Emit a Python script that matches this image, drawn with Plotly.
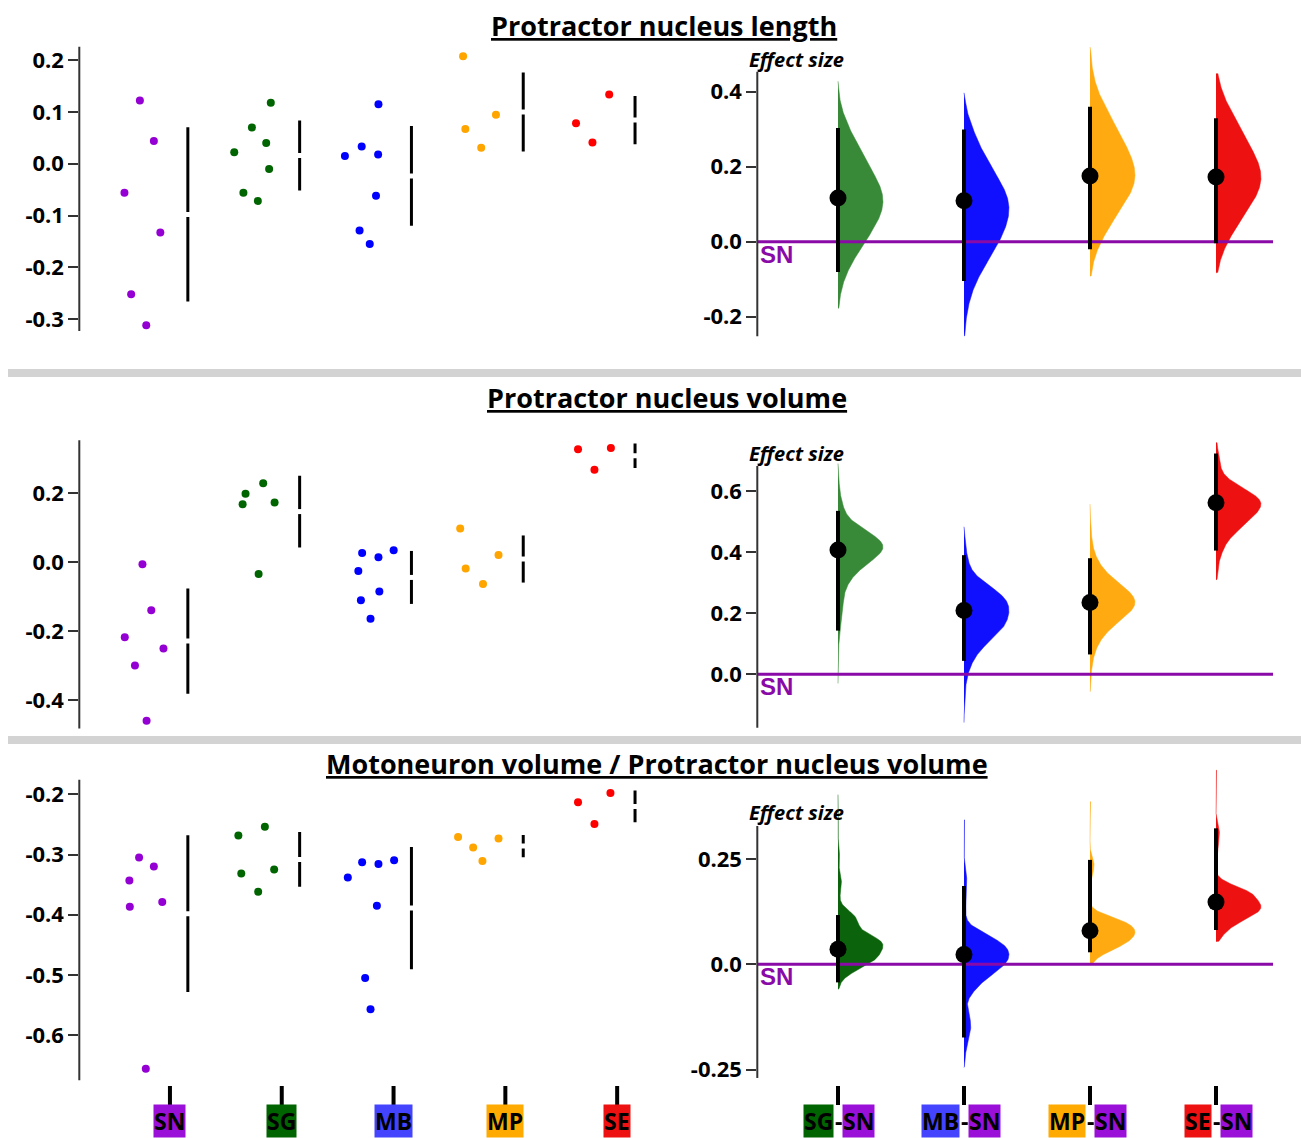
import math
import itertools
import numpy as np
import plotly.graph_objects as go

# ------------------------------------------------------------------ DATA
GROUPS = ["SN", "SG", "MB", "MP", "SE"]
COMPARISONS = ["SG", "MB", "MP", "SE"]
CONTROL = "SN"

# Protractor nucleus length (values, swarm offsets in group units)
length_SN = [0.122, 0.044, -0.056, -0.133, -0.252, -0.312]
length_SN_swarm = [-0.019, 0.106, -0.157, 0.164, -0.097, 0.038]
length_SG = [0.1175, 0.070, 0.040, 0.022, -0.010, -0.056, -0.072]
length_SG_swarm = [0.152, -0.017, 0.111, -0.175, 0.137, -0.093, 0.036]
length_MB = [0.115, 0.033, 0.018, 0.015, -0.062, -0.129, -0.155]
length_MB_swarm = [0.115, -0.035, 0.112, -0.185, 0.093, -0.054, 0.037]
length_MP = [0.2075, 0.0945, 0.067, 0.031]
length_MP_swarm = [-0.128, 0.166, -0.108, 0.034]
length_SE = [0.1335, 0.078, 0.041]
length_SE_swarm = [0.179, -0.118, 0.029]
length_ci_low = [-0.081, -0.105, -0.020, -0.004]
length_ci_high = [0.303, 0.299, 0.360, 0.329]
length_boot_min = [-0.178, -0.252, -0.092, -0.083]
length_boot_max = [0.428, 0.397, 0.519, 0.448]

# Protractor nucleus volume
volume_SN = [-0.006, -0.139, -0.217, -0.250, -0.299, -0.459]
volume_SN_swarm = [0.004, 0.083, -0.154, 0.192, -0.063, 0.041]
volume_SG = [0.229, 0.199, 0.168, 0.173, -0.034]
volume_SG_swarm = [0.084, -0.074, -0.100, 0.186, 0.043]
volume_MB = [0.027, 0.0145, 0.035, -0.025, -0.085, -0.110, -0.1635]
volume_MB_swarm = [-0.031, 0.115, 0.251, -0.065, 0.123, -0.042, 0.044]
volume_MP = [0.098, 0.021, -0.018, -0.063]
volume_MP_swarm = [-0.154, 0.189, -0.105, 0.050]
volume_SE = [0.328, 0.331, 0.268]
volume_SE_swarm = [-0.100, 0.194, 0.047]
volume_ci_low = [0.143, 0.044, 0.065, 0.405]
volume_ci_high = [0.535, 0.390, 0.380, 0.723]
volume_boot_min = [-0.030, -0.158, -0.057, 0.309]
volume_boot_max = [0.690, 0.483, 0.557, 0.758]

# Motoneuron volume / Protractor nucleus volume
ratio_SN = [-0.305, -0.320, -0.343, -0.387, -0.379, -0.656]
ratio_SN_swarm = [-0.026, 0.106, -0.113, -0.109, 0.181, 0.034]
ratio_SG = [-0.2686, -0.2537, -0.3317, -0.325, -0.362]
ratio_SG_swarm = [-0.138, 0.099, -0.112, 0.182, 0.039]
ratio_MB = [-0.338, -0.313, -0.3156, -0.3095, -0.385, -0.505, -0.557]
ratio_MB_swarm = [-0.159, -0.031, 0.115, 0.255, 0.101, -0.004, 0.044]
ratio_MP = [-0.2708, -0.2885, -0.2736, -0.311]
ratio_MP_swarm = [-0.173, -0.038, 0.189, 0.045]
ratio_SE = [-0.2133, -0.1978, -0.2492]
ratio_SE_swarm = [-0.100, 0.190, 0.047]
ratio_ci_low = [-0.043, -0.174, 0.0285, 0.0815]
ratio_ci_high = [0.117, 0.186, 0.248, 0.323]
ratio_boot_min = [-0.059, -0.245, 0.002, 0.054]
ratio_boot_max = [0.403, 0.343, 0.386, 0.461]

# tick labels
length_left_ticks = [-0.3, -0.2, -0.1, 0.0, 0.1, 0.2]
length_left_labels = ["-0.3", "-0.2", "-0.1", "0.0", "0.1", "0.2"]
length_right_ticks = [-0.2, 0.0, 0.2, 0.4]
length_right_labels = ["-0.2", "0.0", "0.2", "0.4"]
volume_left_ticks = [-0.4, -0.2, 0.0, 0.2]
volume_left_labels = ["-0.4", "-0.2", "0.0", "0.2"]
volume_right_ticks = [0.0, 0.2, 0.4, 0.6]
volume_right_labels = ["0.0", "0.2", "0.4", "0.6"]
ratio_left_ticks = [-0.6, -0.5, -0.4, -0.3, -0.2]
ratio_left_labels = ["-0.6", "-0.5", "-0.4", "-0.3", "-0.2"]
ratio_right_ticks = [-0.25, 0.0, 0.25]
ratio_right_labels = ["-0.25", "0.0", "0.25"]

# ------------------------------------------------------------------ STYLE / LAYOUT
W, H = 1301, 1138
POINT_COLORS = {"SN": "#9400D3", "SG": "#006400", "MB": "#0000FF", "MP": "#FFA500", "SE": "#FF0000"}
BOX_COLORS = {"SN": "#9B10D8", "SG": "#006400", "MB": "#4444FF", "MP": "#FFAA00", "SE": "#EE1111"}
ZERO_COLOR = "#8A0AA8"
TICK_FONT = dict(family="Open Sans", size=22, color="black", weight=700)


def xp(px):
    return px / W


def yp(py):
    return 1 - py / H


LEFT_PX = (79.3, 660.0)
RIGHT_PX = (757.3, 1301.0)
LEFT_G0, LEFT_STEP = 142.0, 111.8
RIGHT_G0, RIGHT_STEP = 838.0, 126.0
MEAN_OFFSET = 0.41
HALF_VIOLIN = 0.357
ZERO_END_PX = 1273.0

rows = [
    dict(title="Protractor nucleus length", title_xy=(663.5, 25),
         data={g: (globals()[f"length_{g}"], globals()[f"length_{g}_swarm"]) for g in GROUPS},
         ci=(length_ci_low, length_ci_high), boot=(length_boot_min, length_boot_max),
         left=dict(dom=(40, 345), zero=163.7, ppu=518.0, axis=(-0.323, 0.226),
                   ticks=(length_left_ticks, length_left_labels)),
         right=dict(dom=(30, 345), zero=241.7, ppu=375.0, axis=(-0.252, 0.453),
                    ticks=(length_right_ticks, length_right_labels)),
         effect_y=59, green="#388A38", bw=0.4),
    dict(title="Protractor nucleus volume", title_xy=(667.5, 397),
         data={g: (globals()[f"volume_{g}"], globals()[f"volume_{g}_swarm"]) for g in GROUPS},
         ci=(volume_ci_low, volume_ci_high), boot=(volume_boot_min, volume_boot_max),
         left=dict(dom=(420, 735), zero=562.3, ppu=345.0, axis=(-0.482, 0.354),
                   ticks=(volume_left_ticks, volume_left_labels)),
         right=dict(dom=(420, 735), zero=674.3, ppu=305.5, axis=(-0.175, 0.682),
                    ticks=(volume_right_ticks, volume_right_labels)),
         effect_y=453, green="#388A38", bw=0.4),
    dict(title="Motoneuron volume / Protractor nucleus volume", title_xy=(657, 763),
         data={g: (globals()[f"ratio_{g}"], globals()[f"ratio_{g}_swarm"]) for g in GROUPS},
         ci=(ratio_ci_low, ratio_ci_high), boot=(ratio_boot_min, ratio_boot_max),
         left=dict(dom=(770, 1085), zero=673.9, ppu=602.0, axis=(-0.675, -0.176),
                   ticks=(ratio_left_ticks, ratio_left_labels)),
         right=dict(dom=(760, 1085), zero=964.3, ppu=421.0, axis=(-0.27, 0.3285),
                    ticks=(ratio_right_ticks, ratio_right_labels)),
         effect_y=812, green="#0B640B", bw=0.27),
]
VIOLIN_COLORS = {"MB": "#1010FF", "MP": "#FFAA11", "SE": "#EE1111"}


# ------------------------------------------------------------------ STATS
def boot_median_dist(vals):
    """Exact bootstrap distribution of the median (all resamples enumerated)."""
    s = sorted(vals)
    n = len(s)
    fact = math.factorial(n)
    out = {}
    for combo in itertools.combinations_with_replacement(range(n), n):
        counts = np.bincount(combo, minlength=n)
        w = fact / np.prod([math.factorial(int(c)) for c in counts]) / n ** n
        if n % 2:
            m = s[combo[n // 2]]
        else:
            m = 0.5 * (s[combo[n // 2 - 1]] + s[combo[n // 2]])
        m = round(m, 10)
        out[m] = out.get(m, 0.0) + w
    return out


def diff_density(test, ctrl, grid, bw_factor):
    dt = boot_median_dist(test)
    dc = boot_median_dist(ctrl)
    xs, ps = [], []
    for a, pa in dt.items():
        for b, pb in dc.items():
            xs.append(a - b)
            ps.append(pa * pb)
    xs, ps = np.array(xs), np.array(ps)
    mu = np.sum(xs * ps)
    sd = math.sqrt(np.sum(ps * (xs - mu) ** 2))
    bw = sd * bw_factor
    dens = (ps[None, :] * np.exp(-0.5 * ((grid[:, None] - xs[None, :]) / bw) ** 2)).sum(axis=1)
    return dens / dens.max()


# ------------------------------------------------------------------ FIGURE
fig = go.Figure()
layout = dict(width=W, height=H, margin=dict(l=0, r=0, t=0, b=0),
              paper_bgcolor="white", plot_bgcolor="white", showlegend=False)
shapes, annotations = [], []


def axname(k):
    return ("x" if k == 1 else f"x{k}"), ("y" if k == 1 else f"y{k}")


def layname(k):
    return ("xaxis" if k == 1 else f"xaxis{k}"), ("yaxis" if k == 1 else f"yaxis{k}")


for r, row in enumerate(rows):
    kl, kr = 2 * r + 1, 2 * r + 2
    lx, ly = axname(kl)
    rx, ry = axname(kr)

    # ----- axes
    for k, side, xpx, g0, step in ((kl, "left", LEFT_PX, LEFT_G0, LEFT_STEP),
                                   (kr, "right", RIGHT_PX, RIGHT_G0, RIGHT_STEP)):
        cfg = row[side]
        xa, ya = layname(k)
        xn, yn = axname(k)
        top, bot = cfg["dom"]
        layout[xa] = dict(domain=[xp(xpx[0]), xp(xpx[1])],
                          range=[(xpx[0] - g0) / step, (xpx[1] - g0) / step],
                          visible=False, anchor=yn, fixedrange=True)
        layout[ya] = dict(domain=[yp(bot), yp(top)],
                          range=[(cfg["zero"] - bot) / cfg["ppu"], (cfg["zero"] - top) / cfg["ppu"]],
                          anchor=xn, showgrid=False, zeroline=False, showline=False,
                          ticks="outside", ticklen=10, tickwidth=1.5, tickcolor="#333",
                          tickmode="array", tickvals=cfg["ticks"][0], ticktext=cfg["ticks"][1],
                          tickfont=TICK_FONT, fixedrange=True)
        shapes.append(dict(type="line", xref=f"{xn} domain", yref=yn, x0=0, x1=0,
                           y0=cfg["axis"][0], y1=cfg["axis"][1],
                           line=dict(color="#333", width=2)))

    # ----- left: swarm + mean ± SD
    gap = 2.5 / row["left"]["ppu"]
    for g, name in enumerate(GROUPS):
        vals, offs = row["data"][name]
        fig.add_trace(go.Scatter(x=[g + o for o in offs], y=vals, mode="markers",
                                 marker=dict(size=8, color=POINT_COLORS[name]),
                                 xaxis=lx, yaxis=ly, hoverinfo="y"))
        m = float(np.mean(vals))
        sd = float(np.std(vals, ddof=1))
        xm = g + MEAN_OFFSET
        fig.add_trace(go.Scatter(x=[xm, xm, None, xm, xm], y=[m + sd, m + gap, None, m - gap, m - sd],
                                 mode="lines", line=dict(color="black", width=3),
                                 xaxis=lx, yaxis=ly, hoverinfo="skip"))

    # ----- right: half violins, CI, effect size
    ctrl_vals = row["data"][CONTROL][0]
    for i, name in enumerate(COMPARISONS):
        test_vals = row["data"][name][0]
        lo, hi = row["boot"][0][i], row["boot"][1][i]
        grid = np.linspace(lo, hi, 400)
        dens = diff_density(test_vals, ctrl_vals, grid, row["bw"])
        xs = [i] + list(i + HALF_VIOLIN * dens) + [i]
        ys = [lo] + list(grid) + [hi]
        col = row["green"] if name == "SG" else VIOLIN_COLORS[name]
        fig.add_trace(go.Scatter(x=xs, y=ys, mode="lines", fill="toself", fillcolor=col,
                                 line=dict(color=col, width=0.5), xaxis=rx, yaxis=ry,
                                 hoverinfo="skip"))
    xr = layout[layname(kr)[0]]["range"]
    fig.add_trace(go.Scatter(x=[xr[0], (ZERO_END_PX - RIGHT_G0) / RIGHT_STEP], y=[0, 0], mode="lines",
                             line=dict(color=ZERO_COLOR, width=3), xaxis=rx, yaxis=ry,
                             hoverinfo="skip"))
    for i, name in enumerate(COMPARISONS):
        es = float(np.median(row["data"][name][0]) - np.median(ctrl_vals))
        fig.add_trace(go.Scatter(x=[i, i], y=[row["ci"][0][i], row["ci"][1][i]], mode="lines",
                                 line=dict(color="black", width=4), xaxis=rx, yaxis=ry,
                                 hoverinfo="skip"))
        fig.add_trace(go.Scatter(x=[i], y=[es], mode="markers",
                                 marker=dict(size=17, color="black"), xaxis=rx, yaxis=ry,
                                 hoverinfo="y"))

    # ----- texts
    annotations.append(dict(text=f"<u>{row['title']}</u>", xref="paper", yref="paper",
                            x=xp(row["title_xy"][0]), y=yp(row["title_xy"][1]),
                            xanchor="center", yanchor="middle", showarrow=False,
                            font=dict(family="Open Sans", size=27, color="black", weight=700)))
    annotations.append(dict(text="Effect size", xref="paper", yref="paper",
                            x=xp(796), y=yp(row["effect_y"]), xanchor="center", yanchor="middle",
                            showarrow=False,
                            font=dict(family="Open Sans", size=20, color="black", weight=700,
                                      style="italic")))
    annotations.append(dict(text="SN", xref=f"{rx} domain", yref=ry, x=0, y=0,
                            xanchor="left", yanchor="middle", xshift=1, yshift=-12.5,
                            showarrow=False,
                            font=dict(family="Liberation Sans", size=24, color=ZERO_COLOR,
                                      weight="bold")))

# ----- separators
for ytop, ybot in ((369, 377), (736, 744)):
    shapes.append(dict(type="rect", xref="paper", yref="paper", x0=xp(8), x1=1,
                       y0=yp(ybot), y1=yp(ytop), fillcolor="#D3D3D3", line=dict(width=0),
                       layer="below"))

# ----- bottom category labels
LABEL_OFFSET = 0.25
LABEL_Y = 1121
lab_font = dict(family="Open Sans", size=23, color="black", weight=700)
box = dict(borderpad=0, yanchor="middle", showarrow=False, yref="paper", y=yp(LABEL_Y))
for g, name in enumerate(GROUPS):
    xv = g + LABEL_OFFSET
    shapes.append(dict(type="line", xref="x5", yref="paper", x0=xv, x1=xv,
                       y0=yp(1105), y1=yp(1086), line=dict(color="black", width=4)))
    annotations.append(dict(text=name, xref="x5", x=xv, xanchor="center",
                            bgcolor=BOX_COLORS[name], font=lab_font, **box))
for i, name in enumerate(COMPARISONS):
    shapes.append(dict(type="line", xref="x6", yref="paper", x0=i, x1=i,
                       y0=yp(1105), y1=yp(1086), line=dict(color="black", width=4)))
    annotations.append(dict(text=name, xref="x6", x=i, xanchor="right", xshift=-4,
                            bgcolor=BOX_COLORS[name], font=lab_font, **box))
    annotations.append(dict(text="-", xref="x6", x=i, xanchor="center", font=lab_font, **box))
    annotations.append(dict(text=CONTROL, xref="x6", x=i, xanchor="left", xshift=4,
                            bgcolor=BOX_COLORS[CONTROL], font=lab_font, **box))

layout["shapes"] = shapes
layout["annotations"] = annotations
fig.update_layout(**layout)
fig.write_html("out.html")
